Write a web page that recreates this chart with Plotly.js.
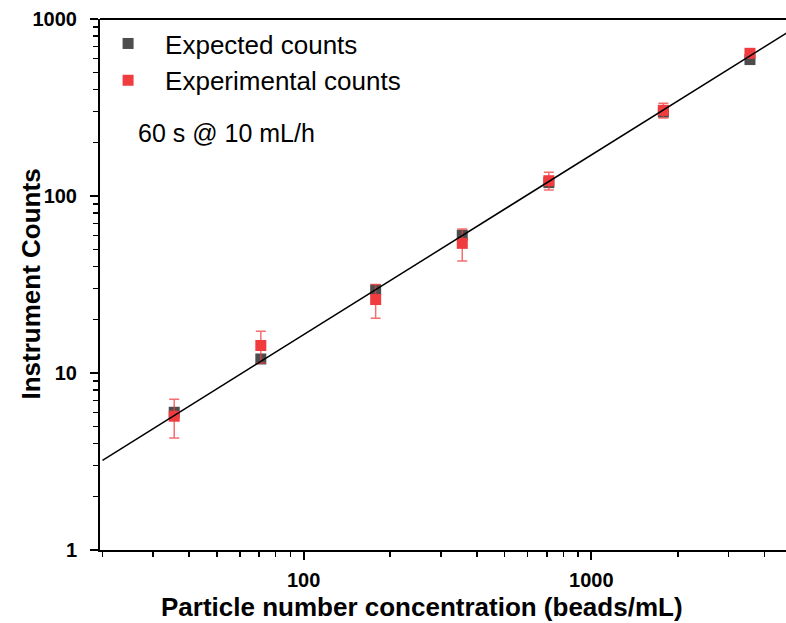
<!DOCTYPE html>
<html>
<head>
<meta charset="utf-8">
<script src="https://cdn.plot.ly/plotly-3.0.1.min.js"></script>
<style>html,body{margin:0;padding:0;background:#fff;}#chart{width:786px;height:623px;}</style>
</head>
<body>
<div id="chart"></div>
<script>
// Data
const concentration = [35.5, 71, 178, 356, 712, 1780, 3560];
const expectedCounts = [6.0, 12.0, 29.5, 60, 119, 298, 590];
const experimentalCounts = [5.7, 14.3, 26, 54, 122, 305, 640];
const experimentalErr = [1.4, 2.9, 5.6, 11, 14, 29, 30];
const fitX = [20, 4800];
const fitY = [3.21, 839];
const seriesNames = ['Expected counts', 'Experimental counts'];
const xTitle = 'Particle number concentration (beads/mL)';
const yTitle = 'Instrument Counts';
const noteText = '60 s @ 10 mL/h';

const FONT = 'Liberation Sans, Arial, Helvetica, sans-serif';

const traces = [
  {
    x: concentration, y: expectedCounts, name: seriesNames[0],
    type: 'scatter', mode: 'markers',
    marker: {symbol: 'square', size: 11, color: '#4d4d4d'}
  },
  {
    x: concentration, y: experimentalCounts, name: seriesNames[1],
    type: 'scatter', mode: 'markers',
    marker: {symbol: 'square', size: 11, color: '#f03c3f'},
    error_y: {type: 'data', array: experimentalErr, visible: true,
              color: 'rgba(240,60,63,0.75)', thickness: 1.5, width: 5}
  },
  {
    x: fitX, y: fitY, type: 'scatter', mode: 'lines', showlegend: false,
    line: {color: '#000000', width: 1.5}, hoverinfo: 'skip'
  }
];

const layout = {
  width: 786, height: 623,
  margin: {l: 100, r: 0, t: 19, b: 73},
  paper_bgcolor: '#ffffff', plot_bgcolor: '#ffffff',
  font: {family: FONT, color: '#000000'},
  showlegend: true,
  legend: {
    x: -0.013, y: 0.998, xanchor: 'left', yanchor: 'top',
    bgcolor: 'rgba(0,0,0,0)', borderwidth: 0,
    font: {family: FONT, size: 26, color: '#000000'},
    itemwidth: 64, tracegroupgap: 0
  },
  xaxis: {
    type: 'log', range: [Math.log10(19.6), Math.log10(4750)],
    dtick: 1, exponentformat: 'none',
    showline: true, linecolor: '#000', linewidth: 2,
    ticks: 'outside', ticklen: 8, tickwidth: 2, tickcolor: '#000',
    minor: {ticks: 'outside', ticklen: 5, tickwidth: 1.5, tickcolor: '#000', dtick: 'D1', showgrid: false},
    showgrid: false, zeroline: false,
    tickfont: {family: FONT, size: 20, weight: 'bold', color: '#000'},
    ticklabelstandoff: 3
  },
  yaxis: {
    type: 'log', range: [0, 3],
    dtick: 1, exponentformat: 'none',
    showline: true, linecolor: '#000', linewidth: 2,
    ticks: 'outside', ticklen: 8, tickwidth: 2, tickcolor: '#000',
    minor: {ticks: 'outside', ticklen: 5, tickwidth: 1.5, tickcolor: '#000', dtick: 'D1', showgrid: false},
    showgrid: false, zeroline: false,
    tickfont: {family: FONT, size: 20, weight: 'bold', color: '#000'},
    ticklabelstandoff: 9
  },
  shapes: [
    {type: 'line', xref: 'paper', yref: 'paper', x0: 0, x1: 1, y0: 1, y1: 1,
     line: {color: '#000', width: 2}}
  ],
  annotations: [
    {text: noteText, xref: 'paper', yref: 'paper', x: 0.052, y: 0.785,
     xanchor: 'left', yanchor: 'middle', showarrow: false,
     font: {family: FONT, size: 25, color: '#000'}},
    {text: xTitle, xref: 'paper', yref: 'paper', x: (422 - 100) / 686, y: 0,
     xanchor: 'center', yanchor: 'middle', yshift: -57, showarrow: false,
     font: {family: FONT, size: 26, weight: 'bold', color: '#000'}},
    {text: yTitle, xref: 'paper', yref: 'paper', x: 0, y: 0.5, textangle: -90,
     xanchor: 'center', yanchor: 'middle', xshift: -70, showarrow: false,
     font: {family: FONT, size: 26, weight: 'bold', color: '#000'}}
  ]
};

Plotly.newPlot('chart', traces, layout, {displayModeBar: false, staticPlot: true});
</script>
</body>
</html>
